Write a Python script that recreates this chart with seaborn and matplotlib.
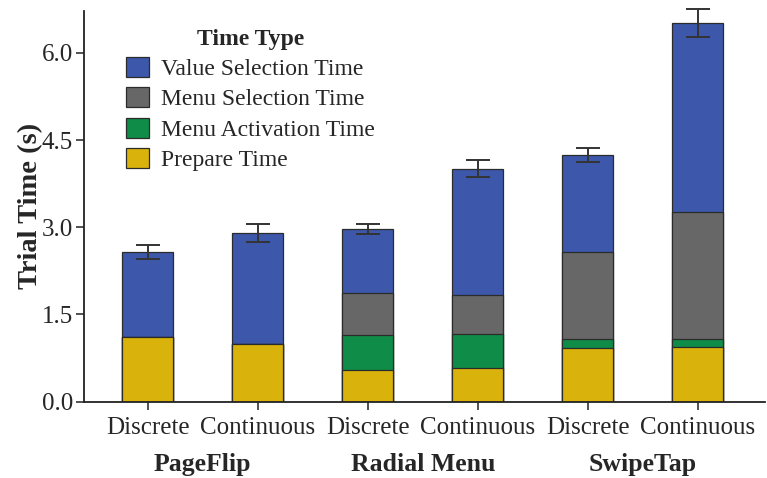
import matplotlib
matplotlib.use("Agg")
import matplotlib.pyplot as plt
from matplotlib.patches import Patch
import numpy as np
import pandas as pd
import seaborn as sns

# ─── Data ─────────────────────────────────────────────────────────────────────
techniques = ["PageFlip", "PageFlip", "Radial Menu", "Radial Menu", "SwipeTap", "SwipeTap"]
modes = ["Discrete", "Continuous", "Discrete", "Continuous", "Discrete", "Continuous"]
prepare_time = [1.12, 1.00, 0.55, 0.58, 0.92, 0.94]
activation_time = [0.00, 0.00, 0.60, 0.58, 0.15, 0.14]
menu_sel_time = [0.00, 0.00, 0.72, 0.67, 1.50, 2.19]
value_sel_time = [1.46, 1.90, 1.10, 2.18, 1.67, 3.25]
total_err = [0.12, 0.16, 0.08, 0.14, 0.12, 0.24]

group_names = ["PageFlip", "Radial Menu", "SwipeTap"]
series_names = ["Value Selection Time", "Menu Selection Time", "Menu Activation Time", "Prepare Time"]
series_colors = ["#3D58AB", "#676767", "#0F8C47", "#DAB20C"]

# ─── Build cumulative table ───────────────────────────────────────────────────
cond = [f"{t} {m}" for t, m in zip(techniques, modes)]
df = pd.DataFrame({
    "cond": cond,
    "prepare": prepare_time,
    "activation": activation_time,
    "menu": menu_sel_time,
    "value": value_sel_time,
})
df["c_prepare"] = df["prepare"]
df["c_activation"] = df["c_prepare"] + df["activation"]
df["c_menu"] = df["c_activation"] + df["menu"]
df["c_value"] = df["c_menu"] + df["value"]

sns.set_theme(style="ticks")
plt.rcParams["font.family"] = ["Liberation Serif", "DejaVu Serif"]

fig = plt.figure(figsize=(7.67, 4.78), dpi=100)
ax = fig.add_axes([0.1095, 0.1596, 0.8875, 0.8174])

# tallest first, smaller cumulative bars drawn over it
for col, color in zip(["c_value", "c_menu", "c_activation", "c_prepare"], series_colors):
    sns.barplot(data=df, x="cond", y=col, order=cond, color=color, width=0.46,
                saturation=1, edgecolor="#2b2b2b", linewidth=0.9, errorbar=None, ax=ax)

eb = ax.errorbar(np.arange(len(cond)), df["c_value"], yerr=total_err, fmt="none",
                 ecolor="#333333", elinewidth=1.4, capsize=8.3, capthick=1.4, zorder=5)
for art in eb.lines[1] + eb.lines[2]:
    art.set_clip_on(False)

ax.set_ylim(0, 6.72)
ax.set_xlim(-0.58, 5.61)
ax.set_yticks([0, 1.5, 3.0, 4.5, 6.0])
ax.set_yticklabels(["0.0", "1.5", "3.0", "4.5", "6.0"], fontsize=18)
ax.set_xticks(np.arange(len(cond)))
ax.set_xticklabels(modes, fontsize=18)
ax.tick_params(axis="both", direction="out", length=6, width=1.2, color="#333333", pad=2)
ax.tick_params(axis="x", pad=5)
ax.set_xlabel("")
ax.set_ylabel("Trial Time (s)", fontsize=20.5, fontweight="bold", labelpad=-1)
sns.despine(ax=ax)
for s in ["left", "bottom"]:
    ax.spines[s].set_linewidth(1.3)
    ax.spines[s].set_color("#222222")

for i, g in enumerate(group_names):
    ax.text(2 * i + 0.5, -0.16, g, transform=ax.get_xaxis_transform(),
            ha="center", va="center", fontsize=18.5, fontweight="bold")

handles = [Patch(facecolor=c, edgecolor="#2b2b2b", linewidth=0.9) for c in series_colors]
leg = ax.legend(handles, series_names, title="Time Type", loc="upper left",
                bbox_to_anchor=(0.045, 0.985), frameon=False, fontsize=17,
                title_fontproperties={"weight": "bold", "size": 17},
                handlelength=0.95, handleheight=0.95, handletextpad=0.5,
                labelspacing=0.3, borderpad=0)

fig.savefig("out.png", dpi=100)
